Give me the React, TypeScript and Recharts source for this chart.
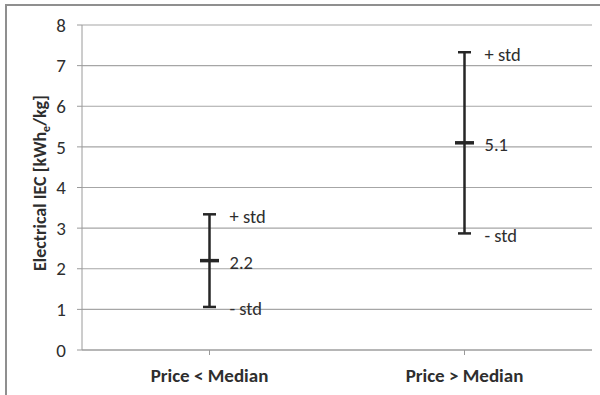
import React from 'react';
import {
  ComposedChart,
  Line,
  XAxis,
  YAxis,
  CartesianGrid,
  ErrorBar,
  LabelList,
} from 'recharts';

const categories = ['Price < Median', 'Price > Median'];
const meanIEC = [2.2, 5.1];
const stdIEC = [1.14, 2.23];
const yTicks = [0, 1, 2, 3, 4, 5, 6, 7, 8];

const FONT = 'Carlito, Calibri, Lato, sans-serif';
const TEXT = '#2e2e2e';
const INK = '#262626';

const data = categories.map((name, i) => ({
  name,
  mean: meanIEC[i],
  std: stdIEC[i],
  upper: meanIEC[i] + stdIEC[i],
  lower: meanIEC[i] - stdIEC[i],
}));

// short thick horizontal tick for the mean
const MeanMark = (props: any) => {
  const { cx, cy } = props;
  if (cx == null || cy == null) return null;
  return <line x1={cx - 9.5} x2={cx + 9.5} y1={cy} y2={cy} stroke={INK} strokeWidth={3.5} />;
};

const sideLabel = (text?: string) => (props: any) => {
  const { x, y, value } = props;
  return (
    <text x={x + 20} y={y + 8.5} fill={TEXT} fontSize={18.5} fontFamily={FONT}>
      {text ?? Number(value).toFixed(1)}
    </text>
  );
};

export default function App() {
  return (
    <div style={{ position: 'absolute', left: 0, top: 0, width: 600, height: 395, background: '#fff' }}>
      <div
        style={{
          position: 'absolute',
          left: 5,
          top: 4,
          right: 0,
          bottom: 0,
          borderLeft: '2px solid #8f8f8f',
          borderTop: '2px solid #8f8f8f',
        }}
      />
      <div style={{ position: 'absolute', left: 0, top: 0 }}>
        <ComposedChart
          width={600}
          height={395}
          data={data}
          margin={{ top: 25, right: 8, bottom: 0, left: 0 }}
        >
          <CartesianGrid vertical={false} stroke="#a6a6a6" strokeWidth={1.2} />
          <XAxis
            dataKey="name"
            scale="band"
            height={45}
            stroke="#9a9a9a"
            tickSize={5}
            tickMargin={14}
            tick={{ fill: TEXT, fontSize: 19, fontWeight: 700, fontFamily: FONT }}
          />
          <YAxis
            width={82}
            domain={[0, 8]}
            ticks={yTicks}
            interval={0}
            stroke="#9a9a9a"
            tickSize={5}
            tickMargin={11}
            tick={{ fill: TEXT, fontSize: 19, fontFamily: FONT }}
            label={{
              content: () => (
                <text
                  x={46}
                  y={183}
                  transform="rotate(-90 46 183)"
                  textAnchor="middle"
                  fill={TEXT}
                  fontSize={18}
                  fontWeight={700}
                  fontFamily={FONT}
                >
                  Electrical IEC [kWh
                  <tspan fontSize={12} dy={4}>e</tspan>
                  <tspan dy={-4}>/kg]</tspan>
                </text>
              ),
            }}
          />
          <Line
            dataKey="upper"
            stroke="none"
            dot={false}
            activeDot={false}
            isAnimationActive={false}
          >
            <LabelList dataKey="upper" content={sideLabel('+ std')} />
          </Line>
          <Line
            dataKey="lower"
            stroke="none"
            dot={false}
            activeDot={false}
            isAnimationActive={false}
          >
            <LabelList dataKey="lower" content={sideLabel('- std')} />
          </Line>
          <Line
            dataKey="mean"
            stroke="none"
            dot={<MeanMark />}
            activeDot={false}
            isAnimationActive={false}
          >
            <ErrorBar dataKey="std" width={6.5} stroke={INK} strokeWidth={2.5} direction="y" />
            <LabelList dataKey="mean" content={sideLabel()} />
          </Line>
        </ComposedChart>
      </div>
    </div>
  );
}
